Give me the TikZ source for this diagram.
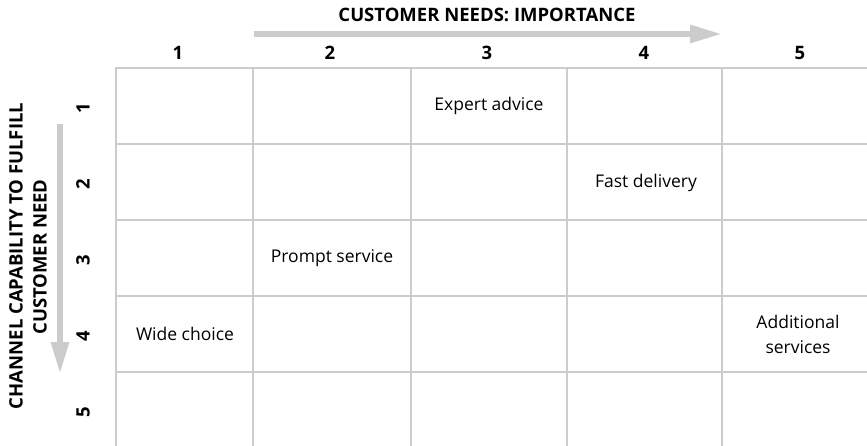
\documentclass[tikz,border=0pt]{standalone}
\usepackage{fontspec}
\setmainfont{Open Sans}
\usetikzlibrary{arrows.meta}

\begin{document}
\begin{tikzpicture}[
        x=1pt,
        y=-1pt,
        font=\fontsize{17.5}{21}\selectfont,
        gridline/.style={
            draw=black!20,
            line width=2pt,
        },
        axis/.style={
            draw=black!20,
            line width=6pt,
            -{Triangle[length=32pt,width=17pt]},
        },
        head/.style={
            font=\fontsize{18.5}{22}\selectfont\bfseries,
        },
        cell/.style={
            align=center,
            font=\fontsize{17.5}{25}\selectfont,
        },
    ]
        \useasboundingbox (0,0) rectangle (867,446);

        % grid
        \draw [gridline] (115,68) -- (867,68);
        \draw [gridline] (115,144) -- (867,144);
        \draw [gridline] (115,220) -- (867,220);
        \draw [gridline] (115,296) -- (867,296);
        \draw [gridline] (115,372) -- (867,372);
        \draw [gridline] (116,68) -- (116,446);
        \draw [gridline] (253,68) -- (253,446);
        \draw [gridline] (411,68) -- (411,446);
        \draw [gridline] (567,68) -- (567,446);
        \draw [gridline] (722,68) -- (722,446);

        % axes
        \node [head] (title) at (487,15) {CUSTOMER NEEDS: IMPORTANCE};
        \coordinate (hstart) at (254,34);
        \coordinate (hend) at (722,34);
        \draw [axis] (hstart) -- (hend);

        \node [head, rotate=90] (side1) at (16,256) {CHANNEL CAPABILITY TO FULFILL};
        \node [head, rotate=90] (side2) at (40,257) {CUSTOMER NEED};
        \coordinate (vstart) at (60,124);
        \coordinate (vend) at (60,374);
        \draw [axis] (vstart) -- (vend);

        \node [head] (col1) at (178,53) {1};
        \node [head] (col2) at (330,53) {2};
        \node [head] (col3) at (487,53) {3};
        \node [head] (col4) at (644,53) {4};
        \node [head] (col5) at (800,53) {5};

        \node [head, rotate=90] (row1) at (83,108) {1};
        \node [head, rotate=90] (row2) at (83,184) {2};
        \node [head, rotate=90] (row3) at (83,260) {3};
        \node [head, rotate=90] (row4) at (83,336) {4};
        \node [head, rotate=90] (row5) at (83,412) {5};

        % needs
        \node [cell] (expert) at (489,106) {Expert advice};
        \node [cell] (fast) at (646,183) {Fast delivery};
        \node [cell] (prompt) at (332,258) {Prompt service};
        \node [cell] (wide) at (185,334) {Wide choice};
        \node [cell] (extra) at (798,334) {Additional\\services};
\end{tikzpicture}
\end{document}
